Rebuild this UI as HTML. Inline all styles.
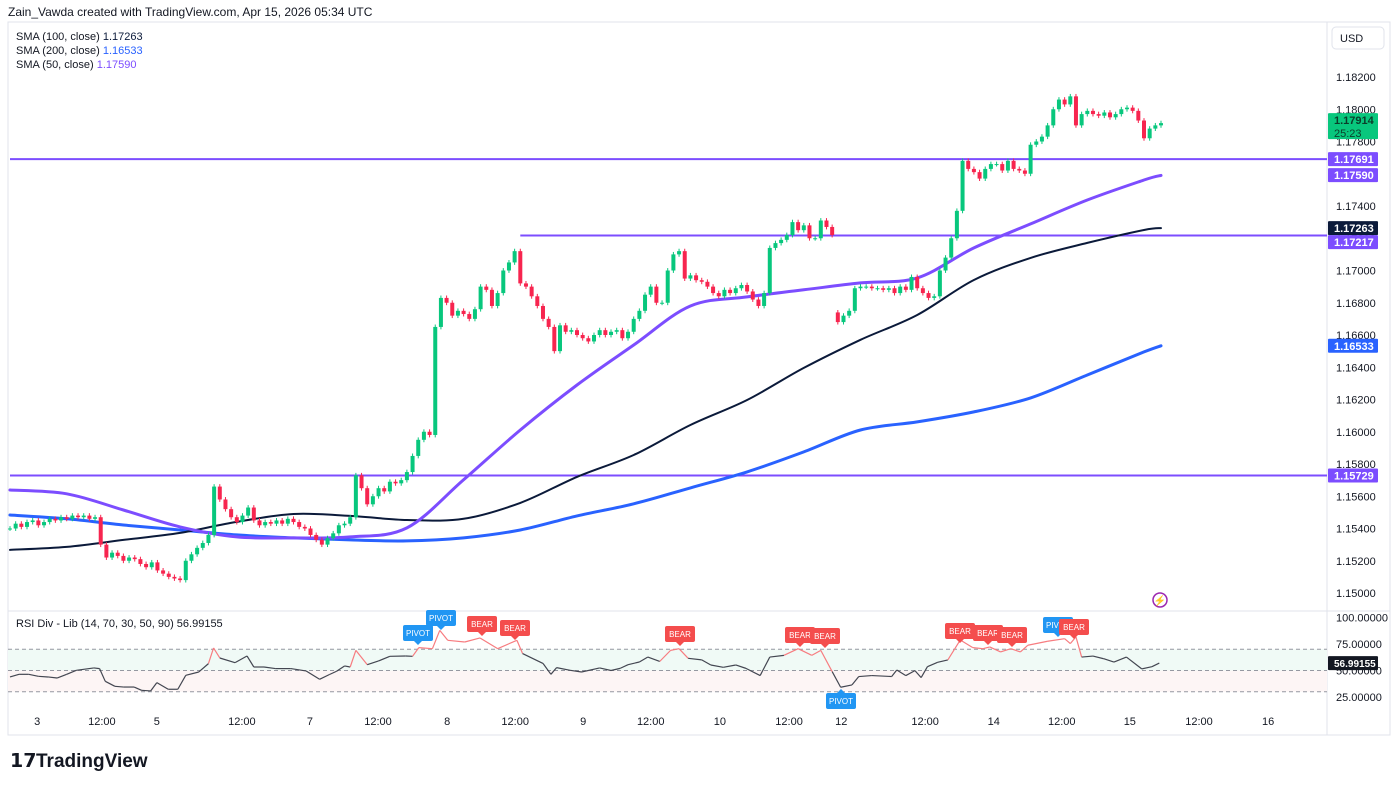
<!DOCTYPE html>
<html><head><meta charset="utf-8"><style>
body{margin:0;background:#fff;width:1400px;height:785px;overflow:hidden;font-family:"Liberation Sans",sans-serif}
svg text{font-family:"Liberation Sans",sans-serif}
</style></head><body>
<svg id="c" width="1400" height="785" viewBox="0 0 1400 785" xmlns="http://www.w3.org/2000/svg">
<rect x="0" y="0" width="1400" height="785" fill="#fff"/>
<rect x="8" y="22" width="1382" height="713" fill="none" stroke="#e0e3eb"/>
<line x1="8" y1="611" x2="1390" y2="611" stroke="#e0e3eb"/>
<line x1="1327" y1="22" x2="1327" y2="735" stroke="#e0e3eb"/>
<text x="8" y="16" font-size="12" fill="#131722">Zain_Vawda created with TradingView.com, Apr 15, 2026 05:34 UTC</text>
<g font-size="11">
<text x="16" y="40" fill="#131722">SMA (100, close) <tspan fill="#0b1a3a">1.17263</tspan></text>
<text x="16" y="54" fill="#131722">SMA (200, close) <tspan fill="#2962ff">1.16533</tspan></text>
<text x="16" y="68" fill="#131722">SMA (50, close) <tspan fill="#7c4dff">1.17590</tspan></text>
</g>
<rect x="1332" y="27" width="52" height="22" rx="4" fill="#fff" stroke="#e0e3eb"/>
<text x="1340" y="42" font-size="11" fill="#131722">USD</text>
<g id="grid"></g><g id="hlines"></g><g id="mas"></g><g id="candles"></g><g id="rsi"></g><g id="axes"></g><g id="tags"></g>
<g><circle cx="1160" cy="600" r="7" fill="none" stroke="#9c27b0" stroke-width="1.5"/><text x="1160" y="604" font-size="10" fill="#e91e63" text-anchor="middle">⚡</text></g>
<g><text x="10" y="767" font-size="19" font-weight="bold" fill="#131722">𝟭𝟳</text><text x="36" y="767" font-size="19" font-weight="bold" fill="#131722">TradingView</text></g>
</svg>
<script>
const closes=[1.1540,1.1543,1.1541,1.1544,1.1545,1.1542,1.1544,1.1546,1.1545,1.1547,1.1546,1.1548,1.1547,1.1548,1.1546,1.1547,
1.1530,1.1522,1.1525,
1.1523,1.1520,1.1522,1.1521,1.1518,1.1516,1.1519,1.1514,1.1512,1.1510,1.1509,1.1508,
1.1520,1.1524,1.1528,1.1531,1.1536,
1.1566,
1.1558,1.1552,1.1547,1.1544,1.1548,1.1553,1.1545,1.1542,1.1544,1.1543,
1.1545,1.1543,1.1546,1.1544,1.1541,1.1540,1.1536,1.1533,1.1530,1.1534,
1.1537,1.1542,1.1543,1.1547,
1.1573,
1.1565,1.1555,1.1560,1.1565,1.1563,1.1569,1.1568,1.1570,1.1575,1.1585,1.1595,1.1600,1.1598,
1.1665,
1.1683,1.1680,1.1672,1.1675,1.1673,1.1670,1.1676,1.1690,1.1688,1.1678,1.1686,1.1700,1.1705,1.1712,
1.1692,1.1690,1.1684,1.1678,1.1670,1.1665,1.1650,
1.1666,1.1662,1.1663,1.1660,1.1658,1.1656,1.1660,1.1663,1.1660,1.1662,1.1663,1.1658,1.1662,1.1670,1.1675,
1.1685,1.1690,1.1680,1.1680,1.1700,
1.1710,1.1712,1.1695,
1.1697,1.1694,1.1693,1.1690,1.1686,1.1684,1.1688,1.1686,1.1689,1.1691,1.1687,1.1682,1.1678,
1.1686,1.1714,
1.1717,1.1719,1.1722,1.1730,1.1725,1.1728,1.1720,
1.1720,1.1731,1.1727,1.1722,
1.1668,1.1672,1.1675,1.1689,1.1690,1.1690,1.1689,
1.1689,1.1688,1.1689,1.1686,1.1690,1.1688,1.1696,1.1689,1.1686,1.1683,1.1684,
1.1700,1.1708,1.1720,1.1737,1.1768,
1.1763,1.1761,1.1757,1.1763,1.1766,1.1766,1.1762,1.1768,1.1763,1.1762,1.1760,1.1778,
1.1780,1.1783,1.1790,1.1800,1.1806,1.1803,1.1808,
1.1790,
1.1797,1.1799,1.1797,1.1796,1.1798,1.1795,1.1797,1.1800,1.1801,1.1799,1.1793,1.1782,1.1788,1.1790,1.17914];
const gapIdx=[146];
const gapOpen=[1.1674];
const maIdx=[0,10,20,30,40,50,60,70,80,90,100,110,120,130,140,150,160,170,180,190,200,203];
const sma50=[1.15639,1.15615,1.15515,1.1541,1.15348,1.15342,1.15348,1.15404,1.15702,1.16011,1.1629,1.16538,1.1678,1.16836,1.1688,1.16923,1.16954,1.1714,1.17289,1.17437,1.17561,1.1759];
const sma100=[1.15267,1.15286,1.15329,1.15373,1.15441,1.1549,1.15478,1.15453,1.1546,1.15559,1.1572,1.15856,1.16042,1.16197,1.16396,1.1657,1.16724,1.16941,1.17078,1.17171,1.17251,1.17263];
const sma200=[1.15484,1.1546,1.15422,1.15391,1.1536,1.15342,1.15329,1.15323,1.15342,1.15391,1.15478,1.15553,1.15652,1.15751,1.15875,1.16011,1.16061,1.16123,1.1621,1.16352,1.16495,1.16533];
const rsiIdx=[0,1.6,3.3,5,6.7,8.3,10,11.7,14.8,15.8,16.8,18.5,20.1,21.9,23.2,24.8,25.9,27.9,29.6,31,33.3,35,35.9,37,39.7,41.8,43,44.8,46.8,49.5,52.2,54.6,56.3,57.6,59,60,61,63,65,67,69.8,71,72.1,74.5,75.8,77.2,80.2,82.9,86,89.4,90.4,94,95.4,96.4,98.8,100.8,104,106,107.6,109,111,112.5,114.6,116.5,118,119.6,122,123.6,125.8,128,129.8,132.3,134,136.5,139,141.4,143,145,146.5,148.5,149.7,152,155.5,156.4,158,159.6,160.7,161.8,163.6,165.4,167.6,169.8,171.6,172.8,174.7,176.5,178.2,179.5,183,186,187,188,189,191,192.9,194.7,196.9,199.6,201.4,202.7];
const rsiVal=[43.9,46.4,46.4,44.5,43.9,42.9,46.4,50.2,52.4,51.8,39.8,35.1,34.4,34.4,31.3,30.7,38.6,32.3,32.3,45.5,48.6,56.5,71.3,61.8,57.4,63.7,53.3,53.3,51.8,51.8,49.6,41.7,46.1,49.3,54.3,53.3,69,55.5,59,63.4,63.7,63.4,71.6,70.6,87.9,78.5,76.9,80.7,70.6,78.5,66,56.7,46.4,52.7,50.2,48.6,52.4,50,52,55.5,58,62.7,58.6,69,70.6,61.5,60,55.2,53,55.2,52,45.2,62.7,64.3,70.6,64.3,69,49,34.2,36.4,44.3,45.2,44.3,50.5,45.2,49.9,43.3,53.6,57.7,60,78.8,71.6,70.6,72.2,67.5,70.6,67.5,73.8,77.6,80,75.4,81.7,62.7,63.6,61.1,58,62.7,51.5,53.6,57];
const priceTicks=[1.182,1.180,1.178,1.176,1.174,1.172,1.170,1.168,1.166,1.164,1.162,1.160,1.158,1.156,1.154,1.152,1.150];
const timeIdx=[4.8,16.2,25.9,40.9,52.9,64.9,77.1,89.1,101.1,113,125.2,137.4,146.6,161.4,173.5,185.5,197.5,209.7,221.9];
const timeLabels=["3","12:00","5","12:00","7","12:00","8","12:00","9","12:00","10","12:00","12","12:00","14","12:00","15","12:00","16"];
const levels=[1.17691,1.17217,1.15729];
const levelStart=[0,90,0];
const NS="http://www.w3.org/2000/svg";
const X=i=>10+i*5.67, Y=p=>77+(1.182-p)*16125, RY=v=>670.5+(50-v)*1.06;
function mk(tag,attrs,parent){const e=document.createElementNS(NS,tag);for(const k in attrs)e.setAttribute(k,attrs[k]);document.getElementById(parent).appendChild(e);return e;}
priceTicks.forEach(p=>{const t=mk('text',{x:1336,y:Y(p)+4,'font-size':11,fill:'#131722'},'axes');t.textContent=p.toFixed(5);

});
[[100,'100.00000'],[75,'75.00000'],[50,'50.00000'],[25,'25.00000']].forEach(a=>{const t=mk('text',{x:1336,y:RY(a[0])+4,'font-size':11,fill:'#131722'},'axes');t.textContent=a[1];

});
timeIdx.forEach((ix,k)=>{const t=mk('text',{x:X(ix),y:725,'font-size':11,fill:'#131722','text-anchor':'middle'},'axes');t.textContent=timeLabels[k];

});
levels.forEach((p,k)=>{const l=mk('line',{x1:X(levelStart[k]),x2:1327,y1:Y(p),y2:Y(p),stroke:'#7c4dff','stroke-width':2},'hlines');

});
function maLine(arr,color,w,name){
const pts=arr.map((v,k)=>[X(maIdx[k]),Y(v)]);
let d='M'+pts[0][0].toFixed(1)+' '+pts[0][1].toFixed(1);
for(let k=0;k<pts.length-1;k++){const p0=pts[Math.max(0,k-1)],p1=pts[k],p2=pts[k+1],p3=pts[Math.min(pts.length-1,k+2)];
const c1=[p1[0]+(p2[0]-p0[0])/6,p1[1]+(p2[1]-p0[1])/6],c2=[p2[0]-(p3[0]-p1[0])/6,p2[1]-(p3[1]-p1[1])/6];
d+=` C${c1[0].toFixed(1)} ${c1[1].toFixed(1)} ${c2[0].toFixed(1)} ${c2[1].toFixed(1)} ${p2[0].toFixed(1)} ${p2[1].toFixed(1)}`;}
const p=mk('path',{d:d,fill:'none',stroke:color,'stroke-width':w,'stroke-linejoin':'round','stroke-linecap':'round'},'mas');

}
maLine(sma200,'#2962ff',3,'sma200-line');maLine(sma100,'#0b1a3a',2,'sma100-line');maLine(sma50,'#7c4dff',3,'sma50-line');
closes.forEach((c,i)=>{let o=i?closes[i-1]:c;const g=gapIdx.indexOf(i);if(g>=0)o=gapOpen[g];const up=c>=o;const col=up?'#08c77d':'#f7254f';const x=X(i);
const hi=Math.max(o,c)+0.00015, lo=Math.min(o,c)-0.00015;
const w=mk('line',{x1:x,x2:x,y1:Y(hi),y2:Y(lo),stroke:col,'stroke-width':1},'candles');


const top=Y(Math.max(o,c)),h=Math.max(1,Y(Math.min(o,c))-top);
const b=mk('rect',{x:x-2,y:top,width:4,height:h,fill:col},'candles');

});
const bg1=mk('rect',{x:8,y:RY(70),width:1319,height:RY(50)-RY(70),fill:'#f0faf6'},'rsi');


const bg2=mk('rect',{x:8,y:RY(50),width:1319,height:RY(30)-RY(50),fill:'#fdf5f5'},'rsi');


[70,50,30].forEach(v=>{const l=mk('line',{x1:8,x2:1327,y1:RY(v),y2:RY(v),stroke:'#9598a1','stroke-dasharray':'4 3'},'rsi');

});
for(let k=1;k<rsiIdx.length;k++){const red=(rsiVal[k]>=68||rsiVal[k-1]>=68)&&rsiIdx[k]>34;
const s=mk('line',{x1:X(rsiIdx[k-1]),y1:RY(rsiVal[k-1]),x2:X(rsiIdx[k]),y2:RY(rsiVal[k]),stroke:red?'#f77c80':'#434651','stroke-width':1.2},'rsi');

}
const rl=mk('text',{x:16,y:627,'font-size':11,fill:'#131722'},'rsi');rl.textContent='RSI Div - Lib (14, 70, 30, 50, 90)  56.99155';


const sigX=[418,441,482,515,680,800,825,960,988,1012,1058,1074,841];
const sigY=[633,618,624,628,634,635,636,631,633,635,625,627,701];
const sigT=['PIVOT','PIVOT','BEAR','BEAR','BEAR','BEAR','BEAR','BEAR','BEAR','BEAR','PIVOT','BEAR','PIVOT'];
sigX.forEach((x,k)=>{const blue=sigT[k]==='PIVOT';const col=blue?'#2196f3':'#f44d4d';const below=k===12;
const g=mk('g',{},'rsi');


g.innerHTML=`<rect x="${x-15}" y="${sigY[k]-8}" width="30" height="16" rx="2" fill="${col}"/><path d="${below?`M${x-4} ${sigY[k]-8}L${x} ${sigY[k]-12}L${x+4} ${sigY[k]-8}Z`:`M${x-4} ${sigY[k]+8}L${x} ${sigY[k]+12}L${x+4} ${sigY[k]+8}Z`}" fill="${col}"/><text x="${x}" y="${sigY[k]+3}" font-size="8" fill="#fff" text-anchor="middle">${sigT[k]}</text>`;});
function tag(y,h,bg,txt,name,txt2,fs){const g=mk('g',{},'tags');


g.innerHTML=`<rect x="1328" y="${y-h/2}" width="50" height="${h}" rx="1" fill="${bg}"/><text x="1334" y="${txt2?y-2:y+4}" font-size="${fs||11}" font-weight="bold" fill="${txt2?'#0b3d2a':'#fff'}">${txt}</text>`+(txt2?`<text x="1334" y="${y+11}" font-size="11" fill="#0b3d2a">${txt2}</text>`:'');}
tag(Y(1.17914)+3,26,'#08c77d','1.17914','last-price-tag','25:23');
tag(Y(1.17691),14,'#7c4dff','1.17691','level-tag-1');
tag(Y(1.17691)+16,14,'#7c4dff','1.17590','sma50-tag');
tag(Y(1.17263),14,'#0b1a3a','1.17263','sma100-tag');
tag(Y(1.17263)+14,14,'#7c4dff','1.17217','level-tag-2');
tag(Y(1.16533),14,'#2962ff','1.16533','sma200-tag');
tag(Y(1.15729),14,'#7c4dff','1.15729','level-tag-3');
tag(RY(56.99155),14,'#131722','56.99155','rsi-value-tag',null,10);
</script>
</body></html>
